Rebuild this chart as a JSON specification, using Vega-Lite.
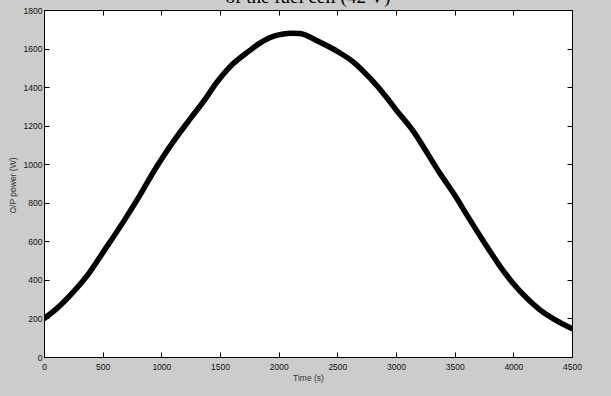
{
  "$schema": "https://vega.github.io/schema/vega-lite/v6.json",
  "width": 528,
  "height": 347,
  "autosize": {"type": "none"},
  "padding": {"left": 44, "top": 10, "right": 39, "bottom": 39},
  "background": "#cccccc",
  "title": {
    "text": "of the fuel cell (42 V)",
    "font": "Liberation Serif",
    "fontSize": 19,
    "fontWeight": "normal",
    "color": "#000000",
    "baseline": "bottom",
    "offset": 0,
    "dy": 20,
    "anchor": "middle",
    "frame": "group"
  },
  "config": {
    "view": {"fill": "#ffffff", "stroke": "#000000", "strokeWidth": 1},
    "axis": {
      "grid": false,
      "domain": false,
      "tickColor": "#000000",
      "tickWidth": 1,
      "tickSize": -5,
      "format": "d",
      "labelFont": "Liberation Sans",
      "labelFontSize": 8.5,
      "labelColor": "#111111",
      "titleFont": "Liberation Sans",
      "titleFontSize": 8.5,
      "titleFontWeight": "normal",
      "titleColor": "#333333"
    }
  },
  "data": {
    "values": [
      {"t": 0, "p": 199},
      {"t": 108, "p": 251},
      {"t": 250, "p": 338},
      {"t": 392, "p": 442},
      {"t": 500, "p": 540},
      {"t": 676, "p": 701},
      {"t": 818, "p": 840},
      {"t": 960, "p": 987},
      {"t": 1000, "p": 1025},
      {"t": 1102, "p": 1117},
      {"t": 1244, "p": 1234},
      {"t": 1386, "p": 1348},
      {"t": 1443, "p": 1400},
      {"t": 1500, "p": 1446},
      {"t": 1613, "p": 1522},
      {"t": 1727, "p": 1578},
      {"t": 1840, "p": 1628},
      {"t": 1954, "p": 1663},
      {"t": 2000, "p": 1671},
      {"t": 2096, "p": 1680},
      {"t": 2181, "p": 1678},
      {"t": 2266, "p": 1660},
      {"t": 2323, "p": 1642},
      {"t": 2500, "p": 1585},
      {"t": 2637, "p": 1530},
      {"t": 2779, "p": 1446},
      {"t": 2922, "p": 1345},
      {"t": 3001, "p": 1282},
      {"t": 3150, "p": 1169},
      {"t": 3264, "p": 1060},
      {"t": 3377, "p": 950},
      {"t": 3500, "p": 840},
      {"t": 3605, "p": 736},
      {"t": 3748, "p": 598},
      {"t": 3890, "p": 468},
      {"t": 3999, "p": 381},
      {"t": 4118, "p": 303},
      {"t": 4232, "p": 242},
      {"t": 4346, "p": 197},
      {"t": 4500, "p": 147}
    ]
  },
  "layer": [
    {
      "mark": {"type": "line", "color": "#000000", "strokeWidth": 5.5, "interpolate": "monotone", "strokeCap": "round", "clip": true},
      "encoding": {
        "x": {
          "field": "t", "type": "quantitative",
          "scale": {"domain": [0, 4500], "nice": false},
          "axis": {"orient": "bottom", "values": [0, 500, 1000, 1500, 2000, 2500, 3000, 3500, 4000, 4500], "labelPadding": 10, "title": "Time (s)", "titleY": 20.5, "titleBaseline": "middle", "labelFlush": false}
        },
        "y": {
          "field": "p", "type": "quantitative",
          "scale": {"domain": [0, 1800], "nice": false},
          "axis": {"orient": "left", "values": [0, 200, 400, 600, 800, 1000, 1200, 1400, 1600, 1800], "labelPadding": 7, "title": "O/P power  (W)", "titleX": -31.5, "titleY": 175, "titleAngle": -90, "titleAlign": "center", "titleBaseline": "middle", "labelFlush": false}
        }
      }
    },
    {
      "mark": {"type": "line", "opacity": 0},
      "encoding": {
        "x": {
          "field": "t", "type": "quantitative",
          "scale": {"domain": [0, 4500], "nice": false},
          "axis": {"orient": "top", "values": [0, 500, 1000, 1500, 2000, 2500, 3000, 3500, 4000, 4500], "labels": false, "title": null, "minExtent": 0, "maxExtent": 0, "labelPadding": 0}
        },
        "y": {
          "field": "p", "type": "quantitative",
          "scale": {"domain": [0, 1800], "nice": false},
          "axis": {"orient": "right", "values": [0, 200, 400, 600, 800, 1000, 1200, 1400, 1600, 1800], "labels": false, "title": null, "minExtent": 0}
        }
      }
    }
  ],
  "resolve": {"axis": {"x": "independent", "y": "independent"}}
}
